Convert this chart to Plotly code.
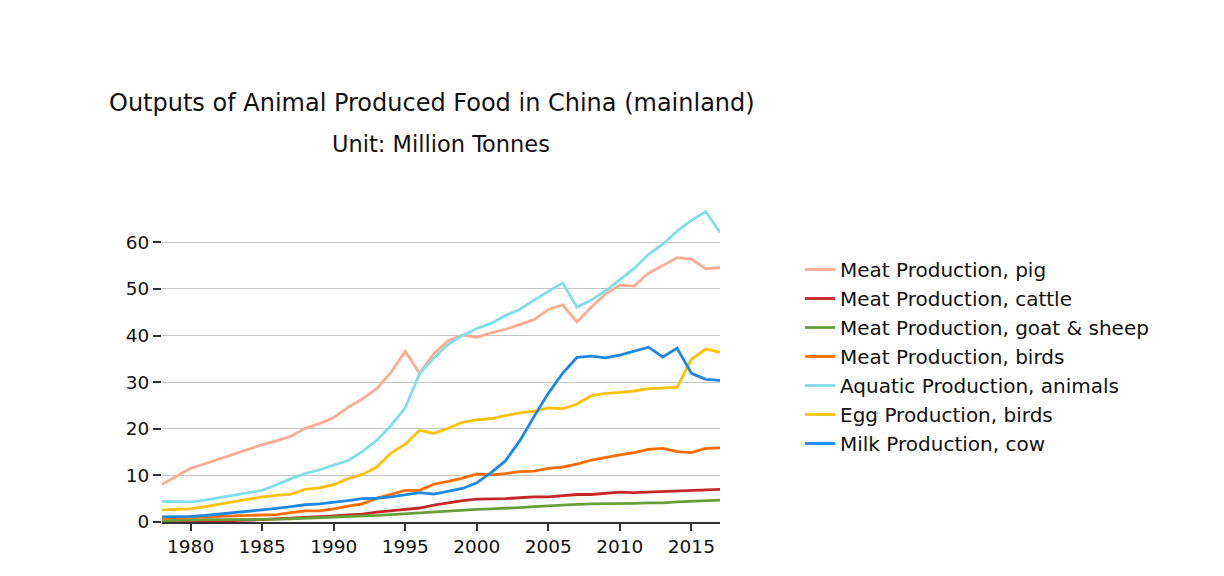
import plotly.graph_objects as go

# years on the x axis
years = list(range(1978, 2018))

# outputs, million tonnes
pig = [8.1, 9.8, 11.5, 12.5, 13.5, 14.5, 15.5, 16.6, 17.4, 18.4,
       20.1, 21.1, 22.4, 24.6, 26.4, 28.6, 32.1, 36.6, 31.9, 36.1,
       38.9, 40.1, 39.6, 40.6, 41.3, 42.4, 43.4, 45.6, 46.6, 42.9,
       46.1, 48.9, 50.8, 50.6, 53.4, 55.0, 56.7, 56.4, 54.3, 54.6]
cattle = [0.2, 0.2, 0.3, 0.3, 0.3, 0.3, 0.4, 0.5, 0.6, 0.8,
          1.0, 1.1, 1.3, 1.5, 1.7, 2.1, 2.4, 2.7, 3.0, 3.6,
          4.1, 4.6, 4.9, 4.9, 5.0, 5.2, 5.4, 5.4, 5.6, 5.9,
          5.9, 6.1, 6.4, 6.3, 6.4, 6.6, 6.7, 6.8, 6.9, 7.0]
goat_sheep = [0.3, 0.4, 0.4, 0.5, 0.5, 0.5, 0.6, 0.6, 0.6, 0.7,
              0.8, 0.9, 1.1, 1.2, 1.3, 1.4, 1.6, 1.8, 1.9, 2.1,
              2.3, 2.5, 2.7, 2.8, 2.9, 3.1, 3.3, 3.5, 3.6, 3.8,
              3.9, 3.9, 4.0, 4.0, 4.1, 4.1, 4.3, 4.4, 4.6, 4.7]
birds = [0.8, 0.9, 1.0, 1.1, 1.2, 1.3, 1.4, 1.5, 1.6, 2.0,
         2.4, 2.4, 2.8, 3.4, 3.9, 5.1, 5.9, 6.8, 6.8, 8.1,
         8.7, 9.4, 10.3, 10.1, 10.4, 10.8, 10.9, 11.5, 11.8, 12.4,
         13.3, 13.9, 14.4, 14.9, 15.6, 15.8, 15.1, 14.9, 15.8, 15.9]
aquatic = [4.4, 4.4, 4.3, 4.7, 5.2, 5.7, 6.2, 6.8, 8.0, 9.3,
           10.4, 11.2, 12.2, 13.2, 15.1, 17.5, 20.7, 24.5, 31.8, 35.2,
           38.1, 40.0, 41.5, 42.6, 44.3, 45.6, 47.6, 49.5, 51.3, 46.1,
           47.6, 49.6, 52.1, 54.4, 57.4, 59.6, 62.4, 64.7, 66.6, 62.1]
eggs = [2.6, 2.7, 2.8, 3.3, 3.8, 4.3, 4.8, 5.4, 5.7, 6.0,
        7.0, 7.3, 8.0, 9.3, 10.2, 11.8, 14.8, 16.7, 19.7, 19.0,
        20.1, 21.4, 21.9, 22.2, 22.8, 23.4, 23.8, 24.5, 24.3, 25.3,
        27.1, 27.6, 27.8, 28.1, 28.6, 28.7, 28.9, 34.9, 37.1, 36.4]
milk = [1.1, 1.1, 1.2, 1.4, 1.7, 2.0, 2.2, 2.5, 2.9, 3.3,
        3.7, 3.9, 4.2, 4.6, 5.0, 5.1, 5.4, 5.8, 6.3, 6.0,
        6.6, 7.2, 8.4, 10.6, 13.1, 17.4, 22.6, 27.6, 31.9, 35.3,
        35.6, 35.2, 35.8, 36.7, 37.5, 35.4, 37.3, 31.9, 30.6, 30.4]

names = ["Meat Production, pig", "Meat Production, cattle",
         "Meat Production, goat & sheep", "Meat Production, birds",
         "Aquatic Production, animals", "Egg Production, birds",
         "Milk Production, cow"]
series = [pig, cattle, goat_sheep, birds, aquatic, eggs, milk]
colors = ["#ffab91", "#c62828", "#689f38", "#ff6d00",
          "#80deea", "#ffc107", "#1e88e5"]

FONT = "DejaVu Sans"

fig = go.Figure()
for nm, vals, col in zip(names, series, colors):
    fig.add_trace(go.Scatter(x=years, y=vals, name=nm, mode="lines",
                             line=dict(color=col, width=2.8)))

# page has an 8px body margin, so the figure is placed 8px right/down
fig.update_layout(
    width=1224, height=576,
    plot_bgcolor="white", paper_bgcolor="white",
    margin=dict(l=154, r=512, t=197, b=62),
    font=dict(family=FONT, size=20, color="#111111"),
    showlegend=True,
    legend=dict(xref="container", yref="container", x=792 / 1224, y=1 - 242 / 576,
                xanchor="left", yanchor="top", font=dict(size=20),
                bgcolor="rgba(0,0,0,0)"),
    xaxis=dict(range=[1978, 2017], showgrid=False, zeroline=False,
               showline=True, linecolor="#333333", linewidth=2,
               ticks="outside", ticklen=7, tickwidth=2, tickcolor="#333333",
               tickfont=dict(size=18.5),
               tickvals=[1980, 1985, 1990, 1995, 2000, 2005, 2010, 2015]),
    yaxis=dict(range=[0, 68], showgrid=True, gridcolor="#c4c4c4", gridwidth=1,
               zeroline=False, showline=False,
               ticks="outside", ticklen=8, tickwidth=2, tickcolor="#333333",
               tickfont=dict(size=18.5),
               tickvals=[0, 10, 20, 30, 40, 50, 60]),
    annotations=[
        dict(text="Outputs of Animal Produced Food in China (mainland)",
             xref="paper", yref="paper", x=(424 - 154) / 558, y=(514 - 95) / 317,
             xanchor="center", yanchor="middle", showarrow=False,
             font=dict(size=24, family=FONT)),
        dict(text="Unit: Million Tonnes",
             xref="paper", yref="paper", x=0.5, y=(514 - 136) / 317,
             xanchor="center", yanchor="middle", showarrow=False,
             font=dict(size=22.5, family=FONT)),
    ],
)

fig.write_html("out.html")
